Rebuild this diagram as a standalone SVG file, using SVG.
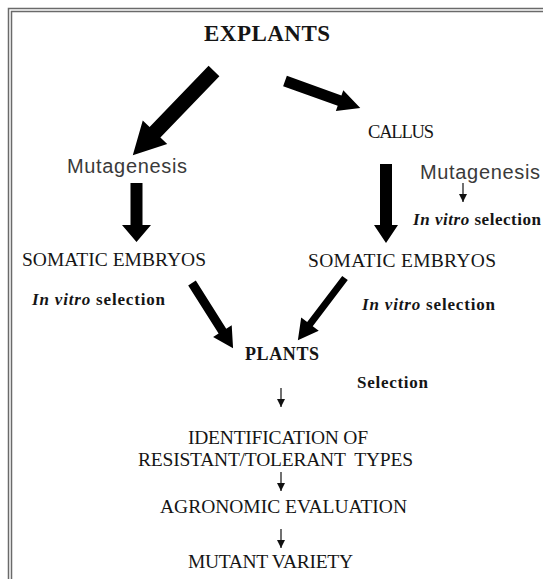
<svg xmlns="http://www.w3.org/2000/svg" width="543" height="579" viewBox="0 0 543 579">
<defs>
<style>
.serif{font-family:"Liberation Serif","Times New Roman",serif;fill:#151515}
.b{font-weight:bold}
.sans{font-family:"Liberation Sans",Arial,sans-serif;fill:#3a3a3a}
.big{fill:#000}
.thin{stroke:#111;stroke-width:1.2;fill:none;marker-end:url(#ah)}
.frame{fill:none;stroke:#6a6a6a;stroke-width:1.5}
</style>
<marker id="ah" markerUnits="userSpaceOnUse" markerWidth="8" markerHeight="10" refX="8" refY="4" orient="auto">
<path d="M0,0 L8,4 L0,8 Z" fill="#111"/>
</marker>
</defs>
<rect width="543" height="579" fill="#fff"/>
<g id="frame">
<path class="frame" d="M8.5,579 V8.5 H543"/>
<path class="frame" d="M11.5,579 V11.5 H543"/>
</g>
<g id="connectors">
<polygon class="big" transform="translate(214,71) rotate(133.96)" points="0,-7.5 85,-7.5 85,-17 117,0 85,17 85,7.5 0,7.5"/>
<polygon class="big" transform="translate(285,81) rotate(19.8)" points="0,-5.5 58,-5.5 58,-11 80,0 58,11 58,5.5 0,5.5"/>
<polygon class="big" points="130.5,183 142.5,183 142.5,225 151,225 136.5,242 122,225 130.5,225"/>
<polygon class="big" points="380,164 392,164 392,225 398,225 386,243 374,225 380,225"/>
<polygon class="big" transform="translate(192,283) rotate(57.76)" points="0,-4.5 57,-4.5 57,-11 77,0 57,11 57,4.5 0,4.5"/>
<polygon class="big" transform="translate(345,278) rotate(127.17)" points="0,-3.5 58,-3.5 58,-11 78,0 58,11 58,3.5 0,3.5"/>
<line class="thin" x1="463" y1="183" x2="463" y2="202"/>
<line class="thin" x1="281" y1="388" x2="281" y2="407"/>
<line class="thin" x1="281" y1="472" x2="281" y2="491"/>
<line class="thin" x1="281" y1="529" x2="281" y2="548"/>
</g>
<g id="explants"><text class="serif b" x="204" y="41" font-size="23" textLength="126">EXPLANTS</text></g>
<g id="callus"><text class="serif" x="368" y="138" font-size="18.5" textLength="66">CALLUS</text></g>
<g id="mutagenesis-left"><text class="sans" x="67" y="173" font-size="20" textLength="120">Mutagenesis</text></g>
<g id="mutagenesis-right"><text class="sans" x="420" y="179" font-size="20" textLength="120">Mutagenesis</text></g>
<g id="invitro-right-top"><text class="serif b" x="413" y="225" font-size="17" textLength="128"><tspan font-style="italic">In vitro</tspan> selection</text></g>
<g id="somatic-left"><text class="serif" x="22" y="266" font-size="19.5" textLength="184">SOMATIC EMBRYOS</text></g>
<g id="somatic-right"><text class="serif" x="308" y="267" font-size="19.5" textLength="188">SOMATIC EMBRYOS</text></g>
<g id="invitro-left"><text class="serif b" x="32" y="305" font-size="17" textLength="133"><tspan font-style="italic">In vitro</tspan> selection</text></g>
<g id="invitro-right"><text class="serif b" x="362" y="310" font-size="17" textLength="133"><tspan font-style="italic">In vitro</tspan> selection</text></g>
<g id="plants"><text class="serif b" x="245" y="360" font-size="18" textLength="74">PLANTS</text></g>
<g id="selection"><text class="serif b" x="357" y="388" font-size="17" textLength="71">Selection</text></g>
<g id="identification">
<text class="serif" x="188" y="444" font-size="19.5" textLength="180">IDENTIFICATION OF</text>
<text class="serif" x="138" y="466" font-size="19.5" textLength="275" xml:space="preserve">RESISTANT/TOLERANT  TYPES</text>
</g>
<g id="agronomic"><text class="serif" x="160" y="513" font-size="19.5" textLength="247">AGRONOMIC EVALUATION</text></g>
<g id="mutant"><text class="serif" x="188" y="568" font-size="19.5" textLength="165">MUTANT VARIETY</text></g>
</svg>
